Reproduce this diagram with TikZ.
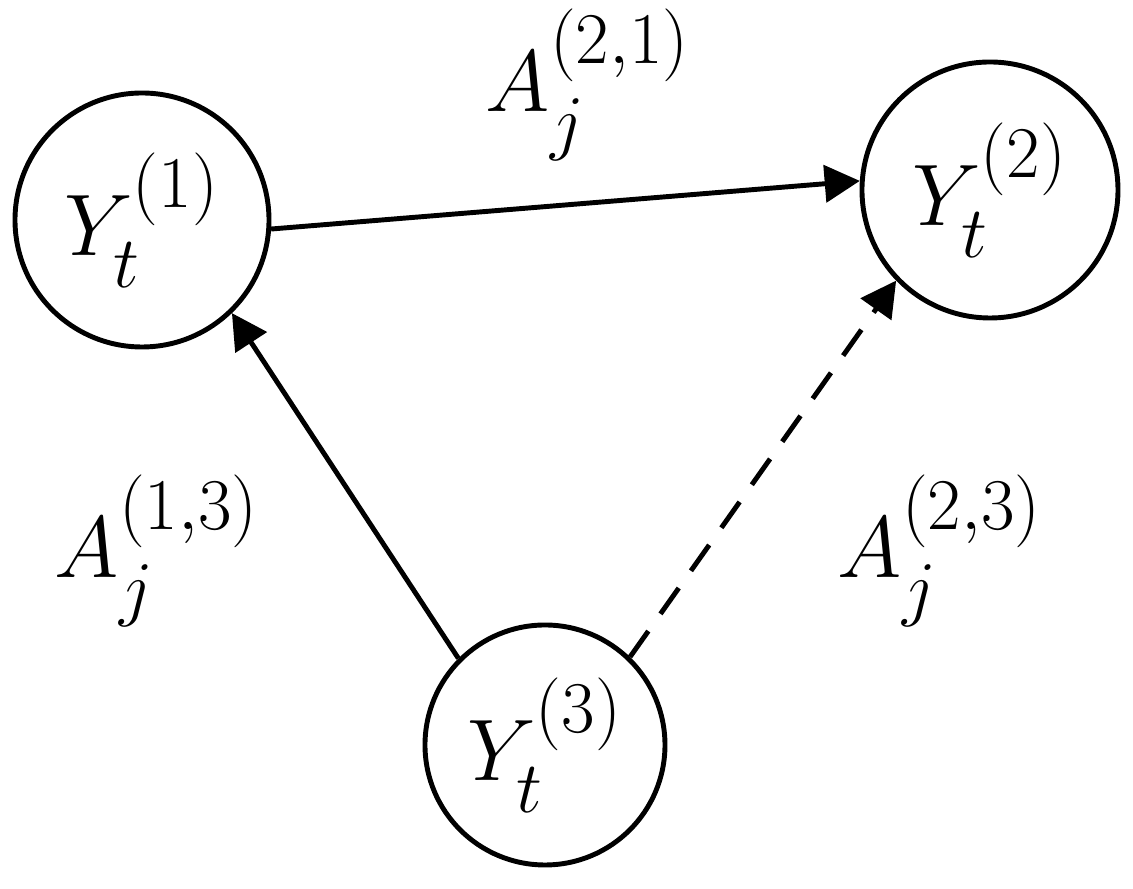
\documentclass[tikz,border=0pt]{standalone}
\usepackage{amsmath,amssymb}
\usepackage{tikz}
\usetikzlibrary{arrows.meta,positioning}

\begin{document}
\begin{tikzpicture}[
    var/.style={draw, circle, line width=1.4pt, inner sep=0pt, font=\fontsize{31}{37}\selectfont},
    lbl/.style={font=\fontsize{31}{37}\selectfont},
    link/.style={line width=1.4pt, -{Triangle[length=10pt,width=10.5pt]}}
]
            \useasboundingbox (0,0) rectangle (11.33,8.89);
            \node[var, minimum size=2.54cm] (y1) at (1.42,6.69) {$Y_t^{(1)}$};
            \node[var, minimum size=2.56cm] (y2) at (9.90,6.99) {$Y_t^{(2)}$};
            \node[var, minimum size=2.40cm] (y3) at (5.45,1.44) {$Y_t^{(3)}$};
            \node[lbl] (a21) at (5.88,8.04) {$A_j^{(2,1)}$};
            \node[lbl] (a13) at (1.57,3.38) {$A_j^{(1,3)}$};
            \node[lbl] (a23) at (9.40,3.38) {$A_j^{(2,3)}$};
            \draw[link] (y1.-4) -- (y2.176);
            \draw[link] (y3.135) -- (y1.-46);
            \draw[link, dash pattern=on 9pt off 6pt] (y3.46) -- (y2.224);
        \end{tikzpicture}
\end{document}
